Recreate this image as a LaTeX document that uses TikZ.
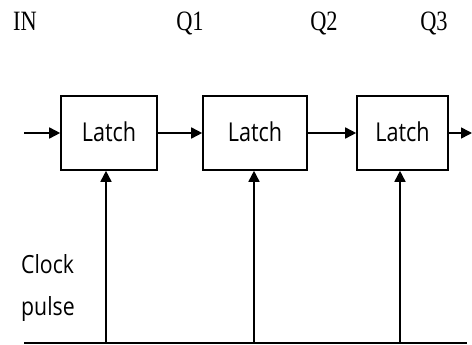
\documentclass[tikz,border=0pt]{standalone}
\usepackage{fontspec}
\setmainfont{Liberation Serif}
\newfontfamily\boxfont{Open Sans}
\usetikzlibrary{arrows.meta}
\tikzset{
  latch/.style={draw, line width=1.6pt, minimum height=74pt, inner sep=0pt, font=\boxfont\fontsize{26}{26}\selectfont},
  arr/.style={line width=1.6pt, -{Triangle[length=11pt,width=11pt]}},
  wire/.style={line width=1.6pt},
  qlabel/.style={anchor=base, inner sep=0pt, font=\fontsize{28}{28}\selectfont},
  clk/.style={anchor=base west, inner sep=0pt, font=\boxfont\fontsize{25}{25}\selectfont}
}
\begin{document}
\begin{tikzpicture}[x=1pt,y=-1pt]
\useasboundingbox (0,0) rectangle (472,345);
\fill[white] (0,0) rectangle (472,345);
% labels
\node[qlabel] (lin) at (25,31) {\scalebox{0.8}[1]{IN}};
\node[qlabel] (lq1) at (190,31) {\scalebox{0.8}[1]{Q1}};
\node[qlabel] (lq2) at (324,31) {\scalebox{0.8}[1]{Q2}};
\node[qlabel] (lq3) at (434,31) {\scalebox{0.8}[1]{Q3}};
% latches
\node[latch, minimum width=96pt] (b1) at (109,133) {\raisebox{3pt}{\scalebox{0.83}[1]{Latch}}};
\node[latch, minimum width=104pt] (b2) at (255,133) {\raisebox{3pt}{\scalebox{0.83}[1]{Latch}}};
\node[latch, minimum width=91pt] (b3) at (402.5,133) {\raisebox{3pt}{\scalebox{0.83}[1]{Latch}}};
% data path
\coordinate (in) at (24,133);
\coordinate (out) at (472,133);
\draw[arr] (in) -- (b1.west);
\draw[arr] (b1.east) -- (b2.west);
\draw[arr] (b2.east) -- (b3.west);
\draw[arr] (b3.east) -- (out);
% clock
\node[clk] (clock) at (21,273) {\scalebox{0.85}[1]{Clock}};
\node[clk] (pulse) at (21,315) {\scalebox{0.85}[1]{pulse}};
\coordinate (bl) at (24,343);
\coordinate (br) at (467,343);
\coordinate (c1) at (106,343);
\coordinate (c2) at (254,343);
\coordinate (c3) at (400,343);
\draw[wire] (bl) -- (br);
\draw[arr] (c1) -- (c1 |- b1.south);
\draw[arr] (c2) -- (c2 |- b2.south);
\draw[arr] (c3) -- (c3 |- b3.south);
\end{tikzpicture}
\end{document}
